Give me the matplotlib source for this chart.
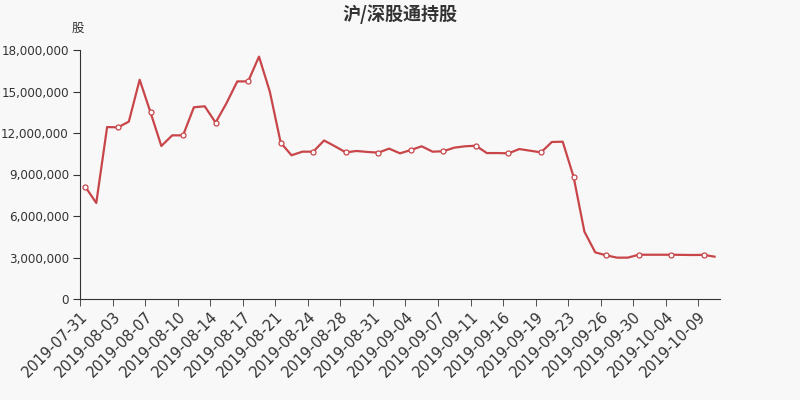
"""沪/深股通持股 line chart, recreated with matplotlib."""

import matplotlib

matplotlib.use("Agg")
import matplotlib.pyplot as plt
import numpy as np
from matplotlib.ticker import FuncFormatter

plt.rcParams["font.family"] = ["DejaVu Sans", "Noto Sans CJK SC"]

# Trading dates (only every third one is labelled on the axis).
DATES = [
    "2019-07-31", "2019-08-01", "2019-08-02", "2019-08-03", "2019-08-05",
    "2019-08-06", "2019-08-07", "2019-08-08", "2019-08-09", "2019-08-10",
    "2019-08-12", "2019-08-13", "2019-08-14", "2019-08-15", "2019-08-16",
    "2019-08-17", "2019-08-19", "2019-08-20", "2019-08-21", "2019-08-22",
    "2019-08-23", "2019-08-24", "2019-08-26", "2019-08-27", "2019-08-28",
    "2019-08-29", "2019-08-30", "2019-08-31", "2019-09-02", "2019-09-03",
    "2019-09-04", "2019-09-05", "2019-09-06", "2019-09-07", "2019-09-09",
    "2019-09-10", "2019-09-11", "2019-09-12", "2019-09-14", "2019-09-16",
    "2019-09-17", "2019-09-18", "2019-09-19", "2019-09-20", "2019-09-21",
    "2019-09-23", "2019-09-24", "2019-09-25", "2019-09-26", "2019-09-27",
    "2019-09-28", "2019-09-30", "2019-10-01", "2019-10-03", "2019-10-04",
    "2019-10-05", "2019-10-08", "2019-10-09", "2019-10-10",
]

# Shares held (股).
HOLDINGS = [
    8.10e6, 6.94e6, 12.43e6, 12.41e6, 12.82e6, 15.85e6, 13.49e6, 11.06e6,
    11.83e6, 11.83e6, 13.86e6, 13.93e6, 12.75e6, 14.15e6, 15.73e6, 15.73e6,
    17.52e6, 14.99e6, 11.30e6, 10.39e6, 10.65e6, 10.65e6, 11.46e6, 11.04e6,
    10.60e6, 10.70e6, 10.63e6, 10.58e6, 10.87e6, 10.53e6, 10.77e6, 11.04e6,
    10.65e6, 10.68e6, 10.94e6, 11.04e6, 11.08e6, 10.55e6, 10.55e6, 10.53e6,
    10.84e6, 10.72e6, 10.60e6, 11.35e6, 11.37e6, 8.84e6, 4.87e6, 3.37e6,
    3.16e6, 2.99e6, 2.99e6, 3.20e6, 3.20e6, 3.20e6, 3.20e6, 3.19e6,
    3.18e6, 3.19e6, 3.06e6,
]

Y_TICKS = [0, 3e6, 6e6, 9e6, 12e6, 15e6, 18e6]
LABEL_STEP = 3

LINE_COLOR = "#c8464a"
TEXT_COLOR = "#333333"
BG = "#f8f8f8"

fig = plt.figure(figsize=(8, 4), dpi=100, facecolor=BG)
ax = fig.add_axes([0.1, 0.2525, 0.8, 0.6225], facecolor=BG)

x = np.arange(len(HOLDINGS))
ax.plot(
    x,
    HOLDINGS,
    color=LINE_COLOR,
    lw=1.6,
    marker="o",
    markevery=LABEL_STEP,
    markersize=3.6,
    markerfacecolor="white",
    markeredgecolor=LINE_COLOR,
    markeredgewidth=0.9,
)

ax.set_xlim(-0.5, len(HOLDINGS) - 0.5)
ax.set_ylim(0, 18e6)

# Labels sit on the band centres, tick marks on the band boundaries.
label_idx = x[::LABEL_STEP]
ax.set_xticks(label_idx)
ax.set_xticklabels(
    [DATES[i] for i in label_idx],
    rotation=45,
    ha="right",
    va="center",
    rotation_mode="anchor",
    fontsize=10.6,
    color=TEXT_COLOR,
)
ax.tick_params(axis="x", which="major", length=0, pad=11)
ax.set_xticks(label_idx - 0.5, minor=True)
ax.tick_params(axis="x", which="minor", length=5, color=TEXT_COLOR)

ax.set_yticks(Y_TICKS)
ax.yaxis.set_major_formatter(FuncFormatter(lambda v, _: f"{v:,.0f}"))
ax.tick_params(axis="y", length=5, pad=3, color=TEXT_COLOR, labelsize=8.6,
               labelcolor=TEXT_COLOR)

for side in ("top", "right"):
    ax.spines[side].set_visible(False)
for side in ("left", "bottom"):
    ax.spines[side].set_color(TEXT_COLOR)

fig.text(0.5, 0.965, "沪/深股通持股", ha="center", va="center", fontsize=13,
         fontweight="bold", color=TEXT_COLOR, family=["Noto Sans CJK SC", "DejaVu Sans"])
fig.text(0.0975, 0.928, "股", ha="center", va="center", fontsize=9,
         color=TEXT_COLOR, family=["Noto Sans CJK SC", "DejaVu Sans"])

fig.savefig("out.png", dpi=100, facecolor=BG)
